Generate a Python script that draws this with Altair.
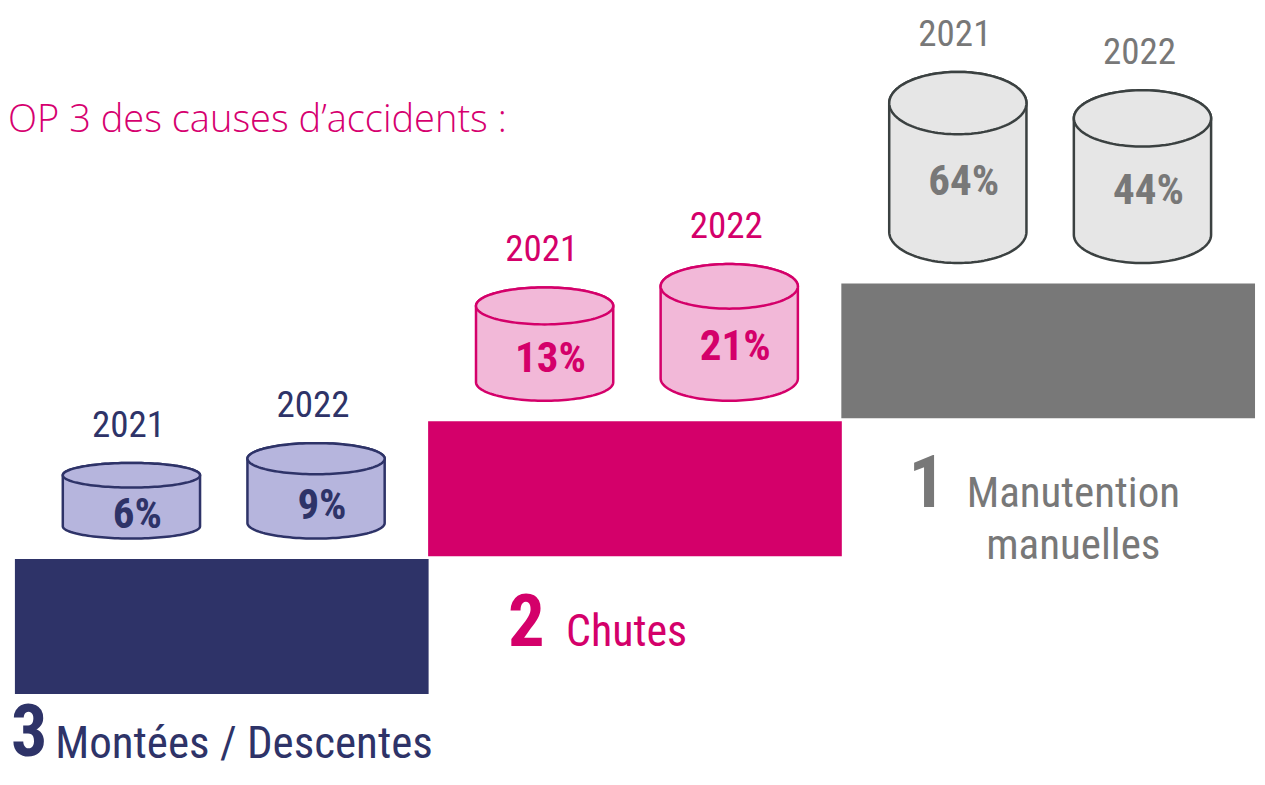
import altair as alt
import pandas as pd

# ---------------- data ----------------
categories = ["Montées / Descentes", "Chutes", "Manutention manuelles"]
label_lines = [["Montées / Descentes"], ["Chutes"], ["Manutention", "manuelles"]]
ranks = [3, 2, 1]
years = ["2021", "2022"]
values_2021 = [6, 13, 64]
values_2022 = [9, 21, 44]
title_text = "OP 3 des causes d’accidents :"

# ---------------- style ----------------
main_colors = ["#2E3368", "#D4006A", "#787878"]
light_colors = ["#B6B5DD", "#F2B8D8", "#E6E6E6"]
outline_colors = ["#2E3368", "#D4006A", "#3B4141"]
FONT = "Roboto Condensed, Liberation Sans Narrow, DejaVu Sans Condensed, Roboto, sans-serif"
TITLE_FONT = "Open Sans, Lato, sans-serif"

W, H = 1249, 767
X_SCALE = alt.Scale(domain=[0, 1265], nice=False, zero=False)
Y_SCALE = alt.Scale(domain=[0, 785], nice=False, zero=False, reverse=True)


def X(f):
    return alt.X(f, type="quantitative", scale=X_SCALE, axis=None)


def Y(f):
    return alt.Y(f, type="quantitative", scale=Y_SCALE, axis=None)


COLOR = alt.Color("rank:N", scale=alt.Scale(domain=ranks, range=main_colors), legend=None)
FILL = alt.Fill("rank:N", scale=alt.Scale(domain=ranks, range=light_colors), legend=None)
STROKE = alt.Stroke("rank:N", scale=alt.Scale(domain=ranks, range=outline_colors), legend=None)

# ---------------- tables built from the arrays ----------------
blocks = pd.DataFrame({"rank": ranks, "category": categories, "slot": list(range(len(ranks)))})

cyl_rows = []
for s, (r, v1, v2) in enumerate(zip(ranks, values_2021, values_2022)):
    for yi, (yr, v) in enumerate(zip(years, [v1, v2])):
        cyl_rows.append({"rank": r, "slot": s, "year": yr, "yi": yi, "value": v, "cid": f"{r}-{yr}"})
cyls = pd.DataFrame(cyl_rows)

line_rows = []
for s, (r, lines) in enumerate(zip(ranks, label_lines)):
    for li, txt in enumerate(lines):
        line_rows.append({"rank": r, "slot": s, "line": li, "label": txt})
lines_df = pd.DataFrame(line_rows)

title_df = pd.DataFrame({"label": [title_text]})

# ---------------- layout (podium geometry in reference units) ----------------
BLOCK_POS = dict(
    bl="7 + datum.slot * 418.5",
    bt="564 - datum.slot * 141",
)
BLOCK_POS2 = dict(br="datum.bl + 419", bb="datum.bt + 138")

# ---------------- podium blocks ----------------
base_blocks = alt.Chart(blocks).transform_calculate(**BLOCK_POS).transform_calculate(**BLOCK_POS2)

blocks_layer = base_blocks.mark_rect().encode(
    x=X("bl"), x2=alt.X2("br"), y=Y("bt"), y2=alt.Y2("bb"), color=COLOR
)

num_layer = base_blocks.transform_calculate(
    nx="datum.bl + [-4, 81, 68][datum.slot]",
    ny="datum.bb + [64, 92, 91][datum.slot]",
    num="'' + datum.rank",
).mark_text(align="left", baseline="alphabetic", font=FONT, fontWeight="bold").encode(
    x=X("nx"), y=Y("ny"), text=alt.Text("num:N"), color=COLOR,
    size=alt.Size("rank:O", scale=alt.Scale(domain=ranks, range=[72, 73, 79]), legend=None),
)

cat_layer = alt.Chart(lines_df).transform_calculate(**BLOCK_POS).transform_calculate(**BLOCK_POS2).transform_calculate(
    lx="datum.bl + [232, 201, 235][datum.slot]",
    ly="datum.bb + [66, 92, 91][datum.slot] + datum.line * 53",
).mark_text(align="center", baseline="alphabetic", font=FONT).encode(
    x=X("lx"), y=Y("ly"), text=alt.Text("label:N"), color=COLOR,
    size=alt.Size("rank:O", scale=alt.Scale(domain=ranks, range=[45, 43, 50]), legend=None),
)

# ---------------- cylinders ----------------
N = 64
base_cyl = alt.Chart(cyls).transform_calculate(**BLOCK_POS).transform_calculate(
    cx="datum.bl + (datum.yi == 0 ? 118 : 305)",
    h="-12 + 49.9 * log(datum.value)",
    yb="datum.bt - 21",
).transform_calculate(
    ry="0.163 * datum.h",
).transform_calculate(
    yct="datum.yb - datum.h + datum.ry",
    ycb="datum.yb - datum.ry",
    ylab="datum.yb - datum.h - 27",
    pct="datum.value + '%'",
)

pts = base_cyl.transform_calculate(t=f"sequence(0, {N + 1})").transform_flatten(["t"]).transform_calculate(
    ang=f"PI * datum.t / {N}",
).transform_calculate(
    px="datum.cx - 69.5 * cos(datum.ang)",
    dy="datum.ry * sin(datum.ang)",
).transform_calculate(
    y_top="datum.yct - datum.dy",
    y_bot="datum.ycb + datum.dy",
    y_top2="datum.yct + datum.dy",
)

body_layer = pts.mark_area(strokeWidth=2.5, strokeJoin="round", fillOpacity=1).encode(
    x=X("px"), y=Y("y_top"), y2=alt.Y2("y_bot"), detail="cid:N", fill=FILL, stroke=STROKE
)
lid_layer = pts.mark_area(strokeWidth=2.5, strokeJoin="round", fillOpacity=1).encode(
    x=X("px"), y=Y("y_top"), y2=alt.Y2("y_top2"), detail="cid:N", fill=FILL, stroke=STROKE
)

year_layer = base_cyl.transform_calculate(yx="datum.cx - 3").mark_text(
    align="center", baseline="alphabetic", font=FONT, fontSize=37
).encode(x=X("yx"), y=Y("ylab"), text=alt.Text("year:N"), color=COLOR)

pct_layer = base_cyl.transform_calculate(
    tx="datum.cx + 6", ty="(datum.yct + datum.ycb) / 2 + 15"
).mark_text(align="center", baseline="middle", font=FONT, fontSize=43, fontWeight="bold").encode(
    x=X("tx"), y=Y("ty"), text=alt.Text("pct:N"), color=COLOR
)

# ---------------- title ----------------
title_layer = alt.Chart(title_df).transform_calculate(tx="0", ty="127").mark_text(
    align="left", baseline="alphabetic", font=TITLE_FONT, fontSize=38, fontWeight=300, color="#D6006F"
).encode(x=X("tx"), y=Y("ty"), text=alt.Text("label:N"))

chart = alt.layer(
    blocks_layer, body_layer, lid_layer, year_layer, pct_layer, num_layer, cat_layer, title_layer
).resolve_scale(size="independent").properties(
    width=W, height=H, padding=0, autosize=alt.AutoSizeParams(type="none")
).configure_view(stroke=None)

chart.save("out.html", embed_options={"renderer": "svg", "actions": False})
